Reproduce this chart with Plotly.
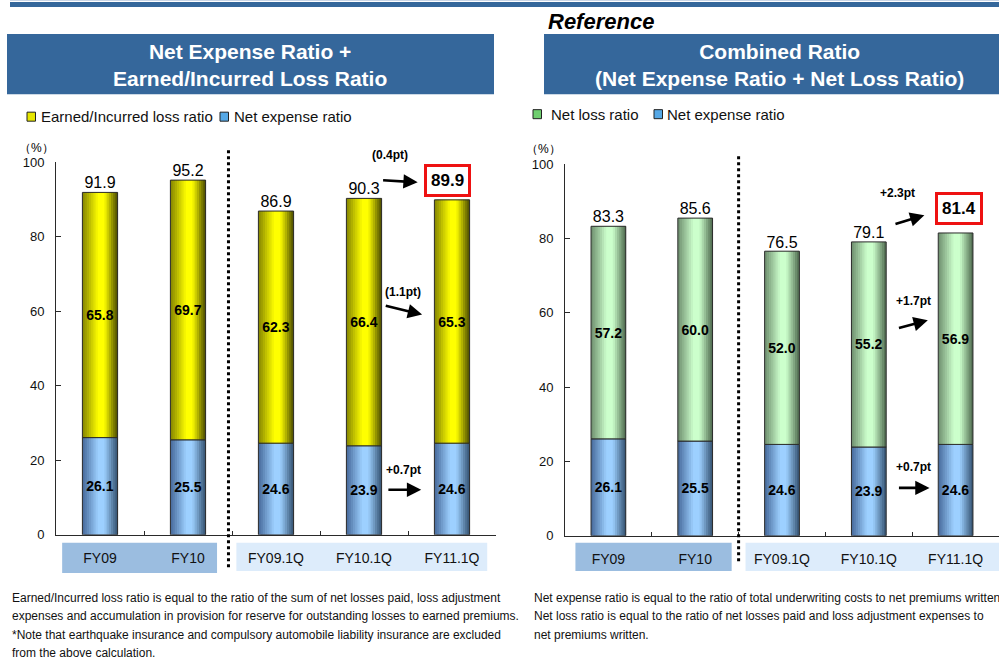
import plotly.graph_objects as go

# ---- data ----
categories = ["FY09", "FY10", "FY09.1Q", "FY10.1Q", "FY11.1Q"]
net_expense_ratio = [26.1, 25.5, 24.6, 23.9, 24.6]
earned_incurred_loss_ratio = [65.8, 69.7, 62.3, 66.4, 65.3]
left_totals = [91.9, 95.2, 86.9, 90.3, 89.9]
net_loss_ratio = [57.2, 60.0, 52.0, 55.2, 56.9]
combined_totals = [83.3, 85.6, 76.5, 79.1, 81.4]
y_ticks = [0, 20, 40, 60, 80, 100]

FONT = "Arial, Liberation Sans, sans-serif"
W, H = 999, 659
TOP_OFF, EFF_H = 8, 643      # vertical placement of the drawing area on the page
BAR_W = 0.4
N_STRIPS = 16
HEADER_BLUE = "#35679b"


def px_x(p):
    return p / W


def px_y(p):
    return 1 - (p - TOP_OFF) / EFF_H


def hex_to_rgb(h):
    h = h.lstrip("#")
    return tuple(int(h[i:i + 2], 16) for i in (0, 2, 4))


def ramp(stops, t):
    for (t0, c0), (t1, c1) in zip(stops, stops[1:]):
        if t0 <= t <= t1:
            f = 0 if t1 == t0 else (t - t0) / (t1 - t0)
            a, b = hex_to_rgb(c0), hex_to_rgb(c1)
            return "rgb(%d,%d,%d)" % tuple(round(a[i] + (b[i] - a[i]) * f) for i in range(3))
    return stops[-1][1]


YELLOW = [(0, "#858500"), (0.45, "#ffff00"), (0.62, "#ffff00"), (1, "#4a4a00")]
BLUE = [(0, "#46699a"), (0.45, "#9dd0ff"), (0.62, "#9dd0ff"), (1, "#33506f")]
GREEN = [(0, "#6d8d6d"), (0.45, "#ccffcc"), (0.62, "#ccffcc"), (1, "#4d684d")]

fig = go.Figure()


def add_gradient_segment(xa, ya, values, bases, stops):
    # horizontal shading: the bar is built from overlapping vertical strips
    sw = BAR_W / N_STRIPS
    for k in range(N_STRIPS):
        t = (k + 0.5) / N_STRIPS
        off = -BAR_W / 2 + k * sw
        fig.add_trace(go.Bar(
            x=categories, y=values, base=bases, xaxis=xa, yaxis=ya,
            offset=off, width=min(2 * sw, BAR_W / 2 - off),
            marker=dict(color=ramp(stops, t), line=dict(width=0)),
            showlegend=False, hoverinfo="skip"))
    fig.add_trace(go.Bar(
        x=categories, y=values, base=bases, xaxis=xa, yaxis=ya,
        offset=-BAR_W / 2, width=BAR_W,
        marker=dict(color="rgba(0,0,0,0)", line=dict(color="#2a2a2a", width=1)),
        text=["%.1f" % v for v in values], textposition="inside",
        insidetextanchor="middle", textangle=0, constraintext="none",
        textfont=dict(family=FONT, size=14, color="black", weight="bold"),
        showlegend=False, hoverinfo="skip"))


# ---- left chart: net expense + earned/incurred loss ----
add_gradient_segment("x", "y", net_expense_ratio, [0] * 5, BLUE)
add_gradient_segment("x", "y", earned_incurred_loss_ratio, net_expense_ratio, YELLOW)
fig.add_trace(go.Scatter(
    x=categories[:4], y=left_totals[:4], mode="text", xaxis="x", yaxis="y",
    text=["%.1f" % v for v in left_totals[:4]], textposition="top center",
    textfont=dict(family=FONT, size=16, color="black"),
    showlegend=False, hoverinfo="skip"))

# ---- right chart: combined ratio ----
add_gradient_segment("x2", "y2", net_expense_ratio, [0] * 5, BLUE)
add_gradient_segment("x2", "y2", net_loss_ratio, net_expense_ratio, GREEN)
fig.add_trace(go.Scatter(
    x=categories[:4], y=combined_totals[:4], mode="text", xaxis="x2", yaxis="y2",
    text=["%.1f" % v for v in combined_totals[:4]], textposition="top center",
    textfont=dict(family=FONT, size=16, color="black"),
    showlegend=False, hoverinfo="skip"))

axis_common = dict(showline=True, linecolor="#2a2a2a", linewidth=1,
                   showgrid=False, zeroline=False, ticks="inside",
                   tickcolor="#2a2a2a")

fig.update_layout(
    width=W, height=H, margin=dict(l=0, r=0, t=0, b=0),
    paper_bgcolor="white", plot_bgcolor="rgba(0,0,0,0)",
    barmode="overlay", showlegend=False,
    font=dict(family=FONT, color="black"),
    xaxis=dict(domain=[px_x(56), px_x(496)], anchor="y", type="category",
               categoryarray=categories, range=[-0.5, 4.5],
               tickson="boundaries", ticklen=4, ticklabelstandoff=10,
               tickfont=dict(size=14, color="#111"), **axis_common),
    yaxis=dict(domain=[px_y(535), px_y(163)], anchor="x", range=[0, 100],
               tickvals=y_ticks, ticklen=5, ticklabelstandoff=8,
               tickfont=dict(size=13, color="#111"), **axis_common),
    xaxis2=dict(domain=[px_x(565), 1.0], anchor="y2", type="category",
                categoryarray=categories, range=[-0.5, 4.5],
                tickson="boundaries", ticklen=4, ticklabelstandoff=10,
                tickfont=dict(size=14, color="#111"), **axis_common),
    yaxis2=dict(domain=[px_y(536), px_y(165)], anchor="x2", range=[0, 100],
                tickvals=y_ticks, ticklen=5, ticklabelstandoff=8,
                tickfont=dict(size=13, color="#111"), **axis_common),
)

shapes = [
    # top rule
    dict(type="rect", xref="paper", yref="paper", x0=px_x(10), x1=1,
         y0=px_y(8), y1=px_y(3), fillcolor=HEADER_BLUE, line=dict(width=0)),
    dict(type="line", xref="paper", yref="paper", x0=px_x(10), x1=1,
         y0=px_y(1.5), y1=px_y(1.5), line=dict(color="#c9d5e6", width=1)),
    # header panels
    dict(type="rect", xref="paper", yref="paper", x0=px_x(7), x1=px_x(494),
         y0=px_y(95), y1=px_y(35), fillcolor=HEADER_BLUE, line=dict(width=0)),
    dict(type="rect", xref="paper", yref="paper", x0=px_x(544), x1=1,
         y0=px_y(95), y1=px_y(35), fillcolor=HEADER_BLUE, line=dict(width=0)),
    # category group bands
    dict(type="rect", xref="x", yref="paper", x0=-0.43, x1=1.33,
         y0=px_y(573), y1=px_y(543), fillcolor="#9bbde0", line=dict(width=0),
         layer="below"),
    dict(type="rect", xref="x", yref="paper", x0=1.55, x1=4.4,
         y0=px_y(571), y1=px_y(543), fillcolor="#ddecfb", line=dict(width=0),
         layer="below"),
    dict(type="rect", xref="x2", yref="paper", x0=-0.38, x1=1.42,
         y0=px_y(571), y1=px_y(543), fillcolor="#9bbde0", line=dict(width=0),
         layer="below"),
    dict(type="rect", xref="x2", yref="paper", x0=1.58, x1=4.5,
         y0=px_y(571), y1=px_y(543), fillcolor="#ddecfb", line=dict(width=0),
         layer="below"),
    # annual / quarterly separators
    dict(type="line", xref="x", yref="paper", x0=1.46, x1=1.46,
         y0=px_y(151), y1=px_y(568), line=dict(color="black", width=3, dash="dot")),
    dict(type="line", xref="x2", yref="paper", x0=1.5, x1=1.5,
         y0=px_y(157), y1=px_y(564), line=dict(color="black", width=3, dash="dot")),
]

ann = []


def text_ann(x, y, text, size, color="black", bold=False, italic=False,
             xanchor="center", yanchor="middle", xref="paper", yref="paper", yshift=0):
    ann.append(dict(x=x, y=y, xref=xref, yref=yref, text=text, showarrow=False,
                    xanchor=xanchor, yanchor=yanchor, yshift=yshift,
                    font=dict(family=FONT, size=size, color=color,
                              weight="bold" if bold else "normal",
                              style="italic" if italic else "normal")))


# legend keys
def legend_key(x_sq, y_mid, x_txt, label, fill):
    shapes.append(dict(type="rect", xref="paper", yref="paper",
                       x0=px_x(x_sq), x1=px_x(x_sq + 8.5),
                       y0=px_y(y_mid + 4.5), y1=px_y(y_mid - 4.5),
                       fillcolor=fill, line=dict(color="#222222", width=1)))
    text_ann(px_x(x_txt), px_y(y_mid), label, 15, color="#111", xanchor="left")


legend_key(27, 117.5, 39, "Earned/Incurred loss ratio", "#e6e600")
legend_key(220, 117.5, 232, "Net expense ratio", "#55a8e6")
legend_key(533, 115, 549, "Net loss ratio", "#6fcf6f")
legend_key(654, 115, 665, "Net expense ratio", "#55a8e6")

text_ann(px_x(546), px_y(22), "Reference", 22, bold=True, italic=True, xanchor="left")
text_ann(px_x(250), px_y(65.5), "Net Expense Ratio +<br>Earned/Incurred Loss Ratio", 21,
         color="white", bold=True)
text_ann(px_x(779), px_y(65.5), "Combined Ratio<br>(Net Expense Ratio + Net Loss Ratio)", 21,
         color="white", bold=True)
text_ann(px_x(36), px_y(149), "（%）", 12)
text_ann(px_x(543), px_y(150), "（%）", 12)


def arrow(xa, ya, x0, y0, x1, y1):
    ann.append(dict(xref=xa, yref=ya, axref=xa, ayref=ya, x=x1, y=y1, ax=x0, ay=y0,
                    text="", showarrow=True, arrowhead=2, arrowsize=1.1,
                    arrowwidth=2.6, arrowcolor="black", standoff=0, startstandoff=0))


def delta(xa, ya, x, y, text, yshift=0):
    text_ann(x, y, text, 12, bold=True, xref=xa, yref=ya, yshift=yshift)


# left chart change markers
delta("x", "y", 3.30, 95.2, "(0.4pt)", yshift=25)
arrow("x", "y", 3.20, 95.2, 3.61, 94.6)
delta("x", "y", 3.44, 65.1, "(1.1pt)")
arrow("x", "y", 3.23, 61.6, 3.66, 59.1)
delta("x", "y", 3.45, 17.5, "+0.7pt")
arrow("x", "y", 3.26, 12.1, 3.65, 12.1)

# right chart change markers
delta("x2", "y2", 3.33, 92.2, "+2.3pt")
arrow("x2", "y2", 3.29, 83.8, 3.64, 86.3)
delta("x2", "y2", 3.51, 63.1, "+1.7pt")
arrow("x2", "y2", 3.33, 55.8, 3.68, 58.0)
delta("x2", "y2", 3.52, 18.6, "+0.7pt")
arrow("x2", "y2", 3.33, 12.9, 3.70, 12.9)

# highlighted latest totals
for xa, ya, totals, ys, xs in (("x", "y", left_totals, 19, -5), ("x2", "y2", combined_totals, 25, 3)):
    ann.append(dict(xref=xa, yref=ya, x=categories[4], y=totals[4], yshift=ys, xshift=xs,
                    text="%.1f" % totals[4], showarrow=False, yanchor="middle",
                    font=dict(family=FONT, size=17, color="black", weight="bold"),
                    bordercolor="#ee1111", borderwidth=3, borderpad=4, bgcolor="white"))

left_notes = [
    "Earned/Incurred loss ratio is equal to the ratio of the sum of net losses paid, loss adjustment",
    "expenses and accumulation in provision for reserve for outstanding losses to earned premiums.",
    "*Note that earthquake insurance and compulsory automobile liability insurance are excluded",
    "from the above calculation.",
]
right_notes = [
    "Net expense ratio is equal to the ratio of total underwriting costs to net premiums written",
    "Net loss ratio is equal to the ratio of net losses paid and loss adjustment expenses to",
    "net premiums written.",
]
for i, line in enumerate(left_notes):
    text_ann(px_x(10), px_y(598 + 18.3 * i), line, 12, color="#111", xanchor="left")
for i, line in enumerate(right_notes):
    text_ann(px_x(532), px_y(598 + 18.3 * i), line, 12, color="#111", xanchor="left")

fig.update_layout(shapes=shapes, annotations=ann)
fig.write_html("out.html")
